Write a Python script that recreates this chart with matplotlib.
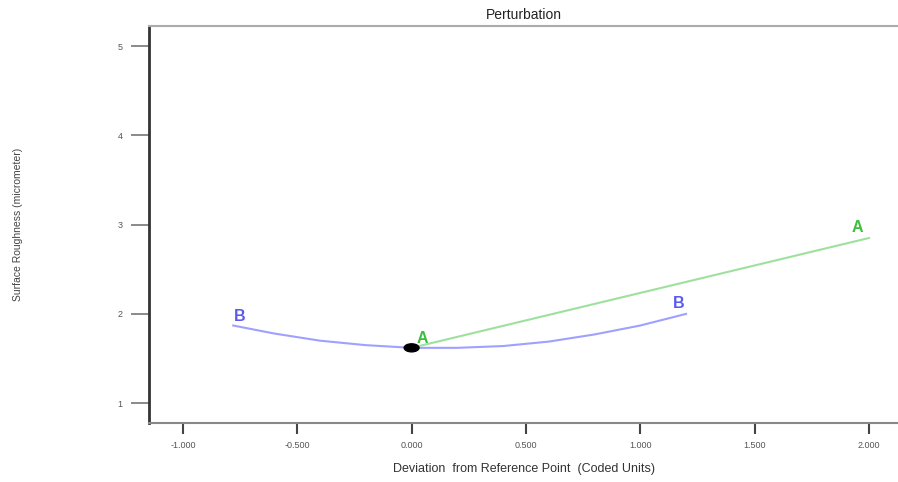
import matplotlib
matplotlib.use("Agg")
import matplotlib.pyplot as plt
from matplotlib.patches import Ellipse

plt.rcParams['font.family'] = ['Liberation Sans', 'DejaVu Sans']

# Data
a_x = [0.0, 2.0]
a_y = [1.62, 2.85]
b_x = [-0.78, -0.6, -0.4, -0.2, 0.0, 0.2, 0.4, 0.6, 0.8, 1.0, 1.2]
b_y = [1.87, 1.78, 1.70, 1.65, 1.62, 1.62, 1.64, 1.69, 1.77, 1.87, 2.00]
ref_x, ref_y = 0.0, 1.62
x_ticks = [-1.0, -0.5, 0.0, 0.5, 1.0, 1.5, 2.0]
x_tick_labels = ["-1.000", "-0.500", "0.000", "0.500", "1.000", "1.500", "2.000"]
y_ticks = [1, 2, 3, 4, 5]

fig = plt.figure(figsize=(8.98, 4.82), dpi=100)
ax = fig.add_axes([0.166, 0.122, 0.834, 0.824])

ax.plot(b_x, b_y, color='#a0a0ff', lw=1.5)
ax.plot(a_x, a_y, color='#9ee09e', lw=1.5)
ax.add_patch(Ellipse((ref_x, ref_y), 0.065, 0.09, color='black', zorder=5))

ax.text(a_x[0] + 0.045, a_y[0] + 0.02, 'A', color='#3cbf3c', fontsize=11.5, fontweight='bold', ha='center', va='bottom')
ax.text(a_x[-1] - 0.05, a_y[-1] + 0.03, 'A', color='#3cbf3c', fontsize=11.5, fontweight='bold', ha='center', va='bottom')
ax.text(b_x[0] + 0.03, b_y[0] + 0.02, 'B', color='#5a5aee', fontsize=11.5, fontweight='bold', ha='center', va='bottom')
ax.text(b_x[-1] - 0.03, b_y[-1] + 0.03, 'B', color='#5a5aee', fontsize=11.5, fontweight='bold', ha='center', va='bottom')

ax.set_xlim(-1.148, 2.127)
ax.set_ylim(0.776, 5.224)
ax.set_xticks(x_ticks)
ax.set_xticklabels(x_tick_labels)
ax.set_yticks(y_ticks)

ax.spines['right'].set_visible(False)
ax.spines['left'].set_color('#333333')
ax.spines['left'].set_linewidth(2)
ax.spines['bottom'].set_color('#888888')
ax.spines['bottom'].set_linewidth(1.5)
ax.spines['top'].set_color('#aaaaaa')
ax.spines['top'].set_linewidth(1.5)

ax.tick_params(axis='y', direction='out', length=13, width=1.2, colors='#777777', labelsize=6.5, labelcolor='#555555', pad=6)
ax.tick_params(axis='x', direction='out', length=8, width=1.5, colors='#444444', labelsize=6.5, labelcolor='#555555', pad=5)

ax.set_title('Perturbation', fontsize=10, color='#222222', pad=5)
ax.set_xlabel('Deviation  from Reference Point  (Coded Units)', fontsize=9, color='#333333', labelpad=9)
fig.text(0.02, 0.534, 'Surface Roughness (micrometer)', rotation=90, fontsize=7.5, color='#444444',
         ha='center', va='center', fontstretch='condensed')

fig.savefig('out.png', dpi=100)
